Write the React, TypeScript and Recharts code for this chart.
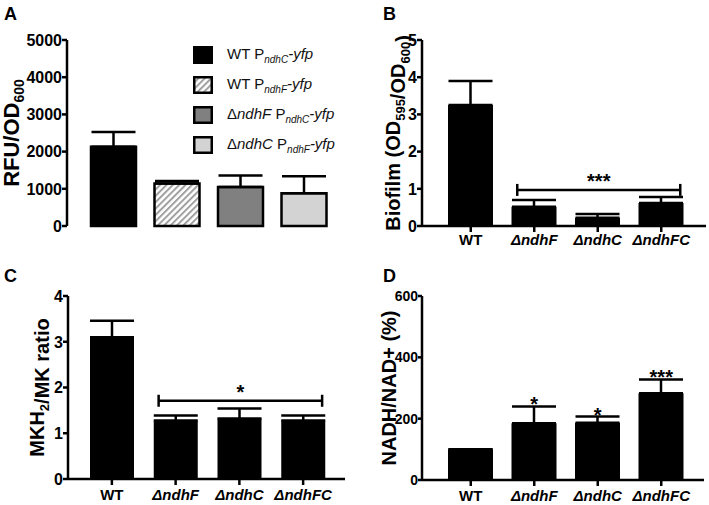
import React from 'react'
import {
  BarChart,
  Bar,
  XAxis,
  YAxis,
  ErrorBar,
  Cell,
  Legend,
  ReferenceLine,
  ReferenceDot,
} from 'recharts'

const strains = ['WT', 'ΔndhF', 'ΔndhC', 'ΔndhFC']

// A: reporter fluorescence
const reporterStrain = ['WT', 'WT', 'ΔndhF', 'ΔndhC']
const reporterPromoter = ['ndhC', 'ndhF', 'ndhC', 'ndhF']
const rfuMean = [2130, 1140, 1050, 880]
const rfuSd = [400, 70, 310, 460]
const rfuTicks = [0, 1000, 2000, 3000, 4000, 5000]
const rfuFills = ['#000000', 'url(#hatch)', '#808080', '#d3d3d3']

// B: biofilm
const biofilmMean = [3.25, 0.52, 0.22, 0.62]
const biofilmSd = [0.65, 0.18, 0.1, 0.16]
const biofilmTicks = [0, 1, 2, 3, 4, 5]
const biofilmBracketY = 0.97
const biofilmStars = '***'

// C: MKH2/MK ratio
const mkMean = [3.1, 1.28, 1.32, 1.28]
const mkSd = [0.36, 0.11, 0.22, 0.11]
const mkTicks = [0, 1, 2, 3, 4]
const mkBracketY = 1.71
const mkStars = '*'

// D: NADH/NAD+
const nadhMean = [100, 185, 187, 283]
const nadhSd = [0, 55, 20, 45]
const nadhStars = ['', '*', '*', '***']
const nadhTicks = [0, 200, 400, 600]

const FONT = '"Liberation Sans", Arial, Helvetica, sans-serif'
const AX = { stroke: '#000', strokeWidth: 2.5 }

const toRows = (mean: number[], sd: number[]) =>
  strains.map((name, i) => ({ name, value: mean[i], err: [0, sd[i]] }))

function StrainTick({ x, y, payload }: any) {
  const v: string = payload.value
  return (
    <text
      x={x}
      y={y + 11}
      textAnchor="middle"
      fontSize={15}
      fontWeight="bold"
      fontStyle={v.startsWith('Δ') ? 'italic' : 'normal'}
      fill="#000"
    >
      {v}
    </text>
  )
}

function NumTick({ x, y, payload, fs }: any) {
  return (
    <text x={x} y={y} dy={fs * 0.36} textAnchor="end" fontSize={fs} fontWeight="bold" fill="#000">
      {payload.value}
    </text>
  )
}

function YTitle({ viewBox, bx, fs = 20, children }: any) {
  const cy = viewBox ? viewBox.y + viewBox.height / 2 : 133
  return (
    <text
      transform={`rotate(-90 ${bx} ${cy})`}
      x={bx}
      y={cy}
      textAnchor="middle"
      fontSize={fs}
      fontWeight="bold"
      fill="#000"
    >
      {children}
    </text>
  )
}

const Sub = ({ children, fs = 13 }: any) => (
  <>
    <tspan dy={5} fontSize={fs}>
      {children}
    </tspan>
    <tspan dy={-5}></tspan>
  </>
)

function Bracket({ x1, x2, y1, stars }: any) {
  const l = x1 - 17
  const r = x2 + 19
  return (
    <g>
      <line x1={l} x2={r} y1={y1} y2={y1} {...AX} />
      <line x1={l} x2={l} y1={y1 - 6} y2={y1 + 6} {...AX} />
      <line x1={r} x2={r} y1={y1 - 6} y2={y1 + 6} {...AX} />
      <text x={(l + r) / 2} y={y1 - 2} textAnchor="middle" fontSize={20} fontWeight="bold" fill="#000">
        {stars}
      </text>
    </g>
  )
}

function StrainName({ s }: { s: string }) {
  if (s.startsWith('Δ')) return <span>Δ<i>{s.slice(1)}</i></span>
  return <span>{s}</span>
}

function ReporterLegend() {
  return (
    <div style={{ fontSize: 15, color: '#111', fontFamily: FONT }}>
      {reporterStrain.map((s, i) => (
        <div key={i} style={{ display: 'flex', alignItems: 'center', height: 30 }}>
          <svg width={20} height={18} style={{ marginRight: 14 }}>
            <rect x={1.25} y={1.25} width={17.5} height={15.5} fill={rfuFills[i]} stroke="#000" strokeWidth={2.5} />
          </svg>
          <span style={{ whiteSpace: 'nowrap' }}>
            <StrainName s={s} /> P
            <sub style={{ fontSize: 10, fontStyle: 'italic' }}>{reporterPromoter[i]}</sub>
            <i>-yfp</i>
          </span>
        </div>
      ))}
    </div>
  )
}

function PanelA() {
  const data = toRows(rfuMean, rfuSd)
  const pad = { left: 15, right: 12 }
  return (
    <BarChart width={354} height={250} data={data} margin={{ top: 40, right: 6, bottom: 24, left: 0 }}>
      <XAxis dataKey="name" tick={false} tickLine={false} axisLine={AX} height={0} padding={pad} />
      <XAxis xAxisId="top" orientation="top" dataKey="name" tick={false} tickLine={false} axisLine={AX} height={0} padding={pad} />
      <YAxis
        width={67}
        domain={[0, 5000]}
        ticks={rfuTicks}
        tick={<NumTick fs={16} />}
        tickSize={5}
        tickMargin={0}
        tickLine={AX}
        axisLine={AX}
        interval={0}
        label={(p: any) => (
          <YTitle {...p} bx={19} fs={22}>
            <tspan>RFU/OD</tspan>
            <Sub fs={14}>600</Sub>
          </YTitle>
        )}
      />
      <YAxis yAxisId="r" orientation="right" domain={[0, 5000]} tick={false} tickLine={false} axisLine={AX} width={0} />
      <Legend
        layout="vertical"
        align="center"
        verticalAlign="middle"
        wrapperStyle={{ top: 40, left: 193, width: 160 }}
        content={() => <ReporterLegend />}
      />
      <Bar dataKey="value" barSize={45} stroke="#000" strokeWidth={2.5} isAnimationActive={false}>
        {data.map((d, i) => (
          <Cell key={d.name} fill={rfuFills[i]} />
        ))}
        <ErrorBar dataKey="err" width={22} stroke="#000" strokeWidth={2.5} direction="y" />
      </Bar>
    </BarChart>
  )
}

function PanelB() {
  const data = toRows(biofilmMean, biofilmSd)
  const pad = { left: 17, right: 13 }
  return (
    <BarChart width={355} height={250} data={data} margin={{ top: 40, right: 3, bottom: 0, left: 0 }}>
      <XAxis dataKey="name" tick={<StrainTick />} tickSize={6} tickLine={AX} axisLine={AX} height={24} padding={pad} interval={0} />
      <XAxis xAxisId="top" orientation="top" dataKey="name" tick={false} tickLine={false} axisLine={AX} height={0} padding={pad} />
      <YAxis
        width={68}
        domain={[0, 5]}
        ticks={biofilmTicks}
        tick={<NumTick fs={16} />}
        tickSize={5}
        tickMargin={0}
        tickLine={AX}
        axisLine={AX}
        interval={0}
        label={(p: any) => (
          <YTitle {...p} bx={46}>
            <tspan>Biofilm (OD</tspan>
            <Sub>595</Sub>
            <tspan>/OD</tspan>
            <Sub>600</Sub>
            <tspan>)</tspan>
          </YTitle>
        )}
      />
      <YAxis yAxisId="r" orientation="right" domain={[0, 5]} tick={false} tickLine={false} axisLine={AX} width={0} />
      <Bar dataKey="value" barSize={45} fill="#000" isAnimationActive={false}>
        <ErrorBar dataKey="err" width={22} stroke="#000" strokeWidth={2.5} direction="y" />
      </Bar>
      <ReferenceLine
        segment={[
          { x: strains[1], y: biofilmBracketY },
          { x: strains[3], y: biofilmBracketY },
        ]}
        shape={(p: any) => <Bracket {...p} stars={biofilmStars} />}
      />
    </BarChart>
  )
}

function PanelC() {
  const data = toRows(mkMean, mkSd)
  const pad = { left: 12, right: 10 }
  return (
    <BarChart width={354} height={255} data={data} margin={{ top: 46, right: 9, bottom: 0, left: 0 }}>
      <XAxis dataKey="name" tick={<StrainTick />} tickSize={6} tickMargin={4} tickLine={AX} axisLine={AX} height={26} padding={pad} interval={0} />
      <XAxis xAxisId="top" orientation="top" dataKey="name" tick={false} tickLine={false} axisLine={AX} height={0} padding={pad} />
      <YAxis
        width={68}
        domain={[0, 4]}
        ticks={mkTicks}
        tick={<NumTick fs={16} />}
        tickSize={5}
        tickMargin={0}
        tickLine={AX}
        axisLine={AX}
        interval={0}
        label={(p: any) => (
          <YTitle {...p} bx={44}>
            <tspan>MKH</tspan>
            <Sub>2</Sub>
            <tspan>/MK ratio</tspan>
          </YTitle>
        )}
      />
      <YAxis yAxisId="r" orientation="right" domain={[0, 4]} tick={false} tickLine={false} axisLine={AX} width={0} />
      <Bar dataKey="value" barSize={44} fill="#000" isAnimationActive={false}>
        <ErrorBar dataKey="err" width={22} stroke="#000" strokeWidth={2.5} direction="y" />
      </Bar>
      <ReferenceLine
        segment={[
          { x: strains[1], y: mkBracketY },
          { x: strains[3], y: mkBracketY },
        ]}
        shape={(p: any) => <Bracket {...p} stars={mkStars} />}
      />
    </BarChart>
  )
}

function PanelD() {
  const data = toRows(nadhMean, nadhSd)
  const pad = { left: 17, right: 11 }
  return (
    <BarChart width={355} height={255} data={data} margin={{ top: 46, right: 5, bottom: 0, left: 0 }}>
      <XAxis dataKey="name" tick={<StrainTick />} tickSize={6} tickMargin={4} tickLine={AX} axisLine={AX} height={25} padding={pad} interval={0} />
      <XAxis xAxisId="top" orientation="top" dataKey="name" tick={false} tickLine={false} axisLine={AX} height={0} padding={pad} />
      <YAxis
        width={68}
        domain={[0, 600]}
        ticks={nadhTicks}
        tick={<NumTick fs={14} />}
        tickSize={4}
        tickMargin={0}
        tickLine={AX}
        axisLine={AX}
        interval={0}
        label={(p: any) => (
          <YTitle {...p} bx={42}>
            <tspan>NADH/NAD+ (%)</tspan>
          </YTitle>
        )}
      />
      <YAxis yAxisId="r" orientation="right" domain={[0, 600]} tick={false} tickLine={false} axisLine={AX} width={0} />
      <Bar dataKey="value" barSize={45} fill="#000" isAnimationActive={false}>
        <ErrorBar dataKey="err" width={22} stroke="#000" strokeWidth={2.5} direction="y" />
      </Bar>
      {nadhStars.map((s, i) =>
        s ? (
          <ReferenceDot
            key={strains[i]}
            x={strains[i]}
            y={nadhMean[i] + nadhSd[i]}
            r={0}
            shape={(p: any) => (
              <text x={p.cx} y={p.cy + 5} textAnchor="middle" fontSize={20} fontWeight="bold" fill="#000">
                {s}
              </text>
            )}
          />
        ) : null,
      )}
    </BarChart>
  )
}

const letterStyle: React.CSSProperties = {
  position: 'absolute',
  fontSize: 18,
  fontWeight: 'bold',
  lineHeight: 1,
}

export default function App() {
  return (
    <div
      style={{
        position: 'absolute',
        left: 0,
        top: 0,
        width: 709,
        height: 505,
        background: '#fff',
        fontFamily: FONT,
        overflow: 'hidden',
      }}
    >
      <svg width={0} height={0} style={{ position: 'absolute' }}>
        <defs>
          <pattern id="hatch" width={4.5} height={4.5} patternUnits="userSpaceOnUse" patternTransform="rotate(45)">
            <rect width={4.5} height={4.5} fill="#fff" />
            <line x1={1} y1={0} x2={1} y2={4.5} stroke="#a0a0a0" strokeWidth={2} />
          </pattern>
        </defs>
      </svg>
      <div style={{ position: 'absolute', left: 0, top: 0 }}>
        <PanelA />
      </div>
      <div style={{ position: 'absolute', left: 354, top: 0 }}>
        <PanelB />
      </div>
      <div style={{ position: 'absolute', left: 0, top: 250 }}>
        <PanelC />
      </div>
      <div style={{ position: 'absolute', left: 354, top: 250 }}>
        <PanelD />
      </div>
      <div style={{ ...letterStyle, left: 4, top: 5 }}>A</div>
      <div style={{ ...letterStyle, left: 383, top: 5 }}>B</div>
      <div style={{ ...letterStyle, left: 4, top: 267 }}>C</div>
      <div style={{ ...letterStyle, left: 383, top: 267 }}>D</div>
    </div>
  )
}
